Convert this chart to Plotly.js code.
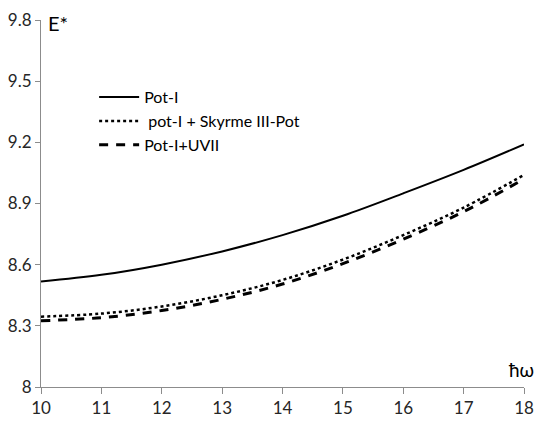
<!DOCTYPE html>
<html>
<head>
<meta charset="utf-8">
<script src="https://cdn.plot.ly/plotly-3.0.1.min.js"></script>
<style>html,body{margin:0;padding:0;background:#fff;}#chart{width:541px;height:427px;}</style>
</head>
<body>
<div id="chart"></div>
<script>
// Data
const hw = [10, 11, 12, 13, 14, 15, 16, 17, 18];
const potI = [8.517, 8.55, 8.60, 8.665, 8.745, 8.84, 8.95, 9.065, 9.19];
const potISkyrme = [8.345, 8.36, 8.395, 8.45, 8.525, 8.625, 8.745, 8.88, 9.04];
const potIUVII = [8.325, 8.34, 8.375, 8.43, 8.505, 8.605, 8.725, 8.86, 9.02];
const seriesNames = ['Pot-I', ' pot-I + Skyrme III-Pot', 'Pot-I+UVII'];
const xTicks = [10, 11, 12, 13, 14, 15, 16, 17, 18];
const yTicks = [8, 8.3, 8.6, 8.9, 9.2, 9.5, 9.8];

const traces = [
  {x: hw, y: potI, name: seriesNames[0], mode: 'lines', line: {color: '#000', width: 2, shape: 'spline'}},
  {x: hw, y: potISkyrme, name: seriesNames[1], mode: 'lines', line: {color: '#000', width: 2.5, dash: 'dot', shape: 'spline'}},
  {x: hw, y: potIUVII, name: seriesNames[2], mode: 'lines', line: {color: '#000', width: 3, dash: '9px,8px', shape: 'spline'}}
];

const tickFont = {family: 'Lato, "Open Sans", sans-serif', size: 17, color: '#262626'};

const layout = {
  width: 541, height: 427,
  margin: {l: 41, r: 17, t: 20, b: 40},
  paper_bgcolor: '#fff', plot_bgcolor: '#fff',
  showlegend: true,
  legend: {
    x: 0.11, y: 0.836, xanchor: 'left', yanchor: 'top',
    font: {family: 'Lato, "Open Sans", sans-serif', size: 16, color: '#000'},
    bgcolor: 'rgba(0,0,0,0)', itemwidth: 40, tracegroupgap: 0
  },
  xaxis: {
    range: [10, 18], tickvals: xTicks, ticktext: xTicks.map(String),
    showgrid: false, zeroline: false, showline: true, linecolor: '#8c8c8c', linewidth: 1,
    ticks: 'outside', ticklen: 6, tickcolor: '#8c8c8c', tickfont: tickFont
  },
  yaxis: {
    range: [8, 9.8], tickvals: yTicks, ticktext: yTicks.map(v => String(v)),
    showgrid: false, zeroline: false, showline: true, linecolor: '#8c8c8c', linewidth: 1,
    ticks: 'outside', ticklen: 5, tickcolor: '#8c8c8c', tickfont: tickFont
  },
  annotations: [
    {text: 'E*', xref: 'paper', yref: 'paper', x: 0.01, y: 1.03, xanchor: 'left', yanchor: 'top',
     showarrow: false, font: {family: 'Lato, "Open Sans", sans-serif', size: 20, color: '#000'}},
    {text: 'ħω', xref: 'paper', yref: 'paper', x: 1.025, y: 0.085, xanchor: 'right', yanchor: 'top',
     showarrow: false, font: {family: 'Lato, "Open Sans", sans-serif', size: 19, color: '#000'}}
  ]
};

Plotly.newPlot('chart', traces, layout, {staticPlot: true, displayModeBar: false});
</script>
</body>
</html>
